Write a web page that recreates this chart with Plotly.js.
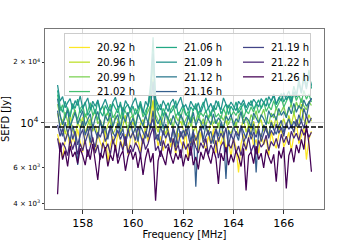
<!DOCTYPE html>
<html>
<head>
<meta charset="utf-8">
<script src="https://cdn.plot.ly/plotly-3.0.1.min.js"></script>
<style>html,body{margin:0;padding:0;background:#fff;}#chart{width:360px;height:240px;}</style>
</head>
<body>
<div id="chart"></div>
<script>
var freq = [157.0,157.1,157.2,157.3,157.4,157.5,157.6,157.7,157.8,157.9,
158.0,158.1,158.2,158.3,158.4,158.5,158.6,158.7,158.8,158.9,
159.0,159.1,159.2,159.3,159.4,159.5,159.6,159.7,159.8,159.9,
160.0,160.1,160.2,160.3,160.4,160.5,160.6,160.7,160.8,160.9,
161.0,161.1,161.2,161.3,161.4,161.5,161.6,161.7,161.8,161.9,
162.0,162.1,162.2,162.3,162.4,162.5,162.6,162.7,162.8,162.9,
163.0,163.1,163.2,163.3,163.4,163.5,163.6,163.7,163.8,163.9,
164.0,164.1,164.2,164.3,164.4,164.5,164.6,164.7,164.8,164.9,
165.0,165.1,165.2,165.3,165.4,165.5,165.6,165.7,165.8,165.9,
166.0,166.1,166.2,166.3,166.4,166.5,166.6,166.7,166.8,166.9,
167.0,167.1];

var labels = ["20.92 h","20.96 h","20.99 h","21.02 h","21.06 h","21.09 h","21.12 h","21.16 h","21.19 h","21.22 h","21.26 h"];

var s2092 = [8800,7600,6700,8200,9100,7400,8600,7900,9300,8100,
7200,8800,9600,7700,8400,7100,8900,8000,7500,9200,
6400,7800,8600,7300,9000,8200,7600,8800,7000,8400,
9100,7800,8300,7200,8700,9400,8100,9800,13000,9000,
7700,8600,7300,8200,9500,7600,8400,7000,8900,8100,
7500,9200,6600,8300,7800,8700,7200,9000,8000,7400,
8600,7900,9300,7100,8500,7800,9100,7400,8200,6800,
8400,7600,5700,7900,8800,7300,8500,9200,7700,8300,
7100,8900,7800,8400,6900,9100,8000,7500,8700,9400,
7600,8200,9000,7300,8600,10200,7900,8800,9500,6600,
8300,9100];

var s2096 = [11200,9600,10400,8800,9900,10800,9200,8600,10100,9400,
10700,8900,9800,10500,9100,9700,8700,10300,9500,8900,
9800,10600,8800,9300,10200,9000,9700,10900,8600,9500,
10100,9200,8500,9900,10400,9100,9600,11500,12800,9800,
9000,10300,9500,8800,9900,10500,9200,8600,9800,10200,
9300,8700,9900,10400,9000,9600,8300,9800,10100,9400,
8800,10200,9500,9100,10000,8600,9700,10300,9200,8900,
9600,10100,8700,9400,10500,9000,9800,9300,10200,8800,
9900,10400,9100,9700,8600,10300,9500,10800,9200,9900,
10500,9400,10900,9800,11200,10100,9600,12400,10400,9800,
11000,10200];

var s2099 = [12400,10800,9900,11300,10200,9400,10900,11600,9800,10500,
9600,11100,10300,9700,10800,11400,9900,10400,9300,10700,
11200,10000,9500,10900,10300,9700,11300,10100,9400,10600,
10900,9800,11200,10400,9600,10700,11500,12200,16500,11000,
10300,9700,10800,11300,9900,10500,9500,10900,10200,11100,
9800,10400,11000,9600,10700,10100,11400,9900,10500,9700,
10800,11200,9900,10400,9500,10900,10300,11100,9800,10600,
10200,9600,10900,11300,10000,10600,9700,11000,10400,11500,
10100,10800,11700,10300,9900,11200,10600,12000,10900,11400,
12100,10800,11600,12400,11000,12700,11800,13200,12100,11600,
12800,12200];

var s2102 = [13800,11500,12300,10600,11900,10900,12500,11200,10400,11800,
12200,10700,11400,12600,10900,11700,10300,11600,12100,10800,
11300,12400,10600,11100,11900,10500,12000,11400,10800,11700,
10600,11800,11000,12300,10700,11500,12100,13500,20000,12000,
11200,10500,11800,11100,10400,11600,12200,10800,11300,10600,
11900,10900,11400,10300,11700,12100,10600,11200,10800,11500,
10400,11300,11900,10700,11100,10500,11800,11000,12300,10800,
11400,10900,11700,12200,10600,11500,11100,12000,11300,12500,
11200,11900,12700,11400,12100,11600,12900,11800,12500,13300,
12000,12800,13600,12300,14200,12900,13800,12600,14500,13100,
13900,12700];

var s2106 = [14500,12100,11300,12800,11600,10700,12400,11800,13100,11200,
11900,12700,10900,11500,12300,11100,12900,11400,10800,12200,
11600,10900,12500,11800,11200,12700,10800,11900,12400,11300,
12100,11000,11700,12800,11300,10900,12300,15500,26500,13000,
11500,12400,10800,11900,12600,11200,11700,12900,10900,11600,
12300,11100,10700,12000,11500,12500,11000,11800,12700,11300,
11900,10800,12200,11600,12800,11100,11700,12400,11000,12100,
11500,12700,11200,11900,12500,11400,12200,12900,11700,12400,
13000,11800,12600,13300,12100,12800,13600,12300,13100,14000,
12700,13500,14400,13000,15200,13700,16500,14100,17800,15000,
18300,14800];

var s2109 = [15400,12800,13500,11900,12600,13200,11700,12900,12200,13600,
11800,12500,13300,11600,12800,12100,13000,11500,12400,13100,
12000,11400,12700,13400,11900,12300,11300,12900,12200,11700,
12600,13300,11800,12400,11200,12800,12100,14500,22000,13200,
12300,11600,12900,12000,11400,12600,13100,11800,12500,13400,
11900,12300,11500,12800,12100,11700,12600,11300,12200,13300,
11800,12500,11400,12900,12200,11600,13300,12400,11900,12700,
12100,11500,12800,12300,13000,11900,12600,12200,13100,12500,
12000,13200,12600,12100,13500,12800,13900,12400,13300,12900,
14100,13000,13700,12600,14300,13400,15800,14000,16600,14700,
17200,15300];

var s2112 = [13200,11000,9800,10800,11600,9600,10400,11300,9900,10700,
11500,9700,10300,11100,9400,10600,11400,10000,9500,10900,
10200,11200,9600,10500,11000,9300,10800,10100,11300,9800,
10600,9500,11100,10300,9700,10900,10000,12000,16000,10500,
9900,10700,9400,11200,10400,9800,10900,10100,9600,11000,
10300,9500,10800,10000,11300,9700,10500,10200,9300,10900,
10400,9800,11100,9900,10600,10200,9400,10800,10300,11000,
9700,10500,10100,11400,9900,10700,10300,9600,11200,10600,
10000,11000,10500,9800,11500,10700,11100,10300,11800,10900,
11400,10600,12000,11100,12500,11300,12200,11700,13000,12100,
12700,13200];

var s2116 = [11500,9400,8600,10100,9000,8200,9700,8800,6200,9300,
10200,8700,9500,8000,9900,9100,8400,10300,8900,9600,
8300,9800,9000,8500,10000,8700,9400,7800,9200,10100,
8800,9500,8100,9700,9000,8400,10200,9300,11500,8900,
8200,9600,8700,9900,9100,8000,9400,7600,9800,8500,
9200,8600,9700,8100,9300,4850,8900,9500,8300,9800,
8700,9100,7900,9400,8600,10000,8800,5300,9200,8500,
9600,8900,8200,9700,9000,8400,9500,8700,9900,5700,
9100,8500,9800,9200,8600,10100,9300,8800,9700,10300,
9000,9800,10500,9400,10200,9600,11000,10100,11800,10700,
12400,13300];

var s2119 = [9800,8600,9400,8100,8900,9700,8300,9100,7800,8700,
9300,8000,8800,9600,8200,7600,9000,8500,9400,8100,
8700,9500,7900,8600,9200,8300,8900,7700,9300,8400,
9000,8200,9600,8700,7900,9100,8500,9800,10500,8300,
8800,7700,9200,8400,9000,8100,9500,8600,7800,9100,
8300,9400,8700,7600,9000,8200,8800,9600,8000,8500,
9200,7900,8700,9300,8100,8900,8400,9500,7700,8800,
8200,9100,8600,9700,8000,8700,9300,8300,9000,8500,
9400,8100,8800,9600,8400,9200,8700,9900,8900,9500,
8600,10000,9300,9800,9000,10400,9600,10200,9400,10900,
10000,10600];

var s2122 = [8400,7200,8000,7600,6900,8300,7400,8100,7000,7900,
7300,8200,6800,7700,8500,7100,7800,6600,8000,7400,
7900,7000,8300,7500,6700,8100,7300,8600,7100,7800,
7200,8000,7600,6900,8400,7400,7900,8800,9500,7300,
7700,6800,8200,7500,7900,7000,8400,7300,7800,6700,
8100,7400,7900,6900,8300,7600,7100,8000,7500,8400,
7000,7800,7300,8200,6700,7700,8100,7200,7900,7500,
8300,7100,7700,6900,8000,7400,8500,7200,7800,7000,
8200,7600,7900,8700,7300,8100,7700,8400,7500,8800,
8000,8600,7800,9100,8400,8900,8200,9400,8700,9200,
8500,9000];

var s2126 = [4450,8000,6600,7300,6100,7700,6800,7200,6300,7500,
6900,6200,7400,6600,7900,6400,5230,7100,6700,7600,
6100,7000,6500,7800,6300,6900,7300,5810,6800,7400,
6600,7200,6000,7000,5540,6700,7500,6400,7100,4130,
6500,7300,6800,6200,7600,6900,6300,7100,6600,7400,
6100,7000,6500,7700,6200,6800,5900,7200,6600,7500,
6900,6300,7400,6700,5000,7100,6500,7600,6200,7000,
6400,7300,6800,6100,7500,4650,6900,7200,6300,7700,
6600,7100,6000,7400,6800,6300,7000,5130,7300,6700,
7600,4750,6900,7500,6400,7800,7100,8300,7400,9800,
7900,5750];

var series = [s2092,s2096,s2099,s2102,s2106,s2109,s2112,s2116,s2119,s2122,s2126];
var colors = ["#fde725","#bddf26","#7ad151","#44bf70","#22a884","#21918c","#2a788e","#355f8d","#414487","#482475","#440154"];
// legend rank so the row-wise legend reproduces the column-wise order
var ranks = [1,4,7,10,2,5,8,11,3,6,9];

var yMinorTickVals = [4000, 6000, 20000];
var yMinorTickText = ['4 × 10<sup>3</sup>', '6 × 10<sup>3</sup>', '2 × 10<sup>4</sup>'];
var yMajorTickVals = [10000];
var yMajorTickText = ['10<sup>4</sup>'];
var xTickVals = [158, 160, 162, 164, 166];
var refLevel = 9550;
var yRange = [Math.log10(3763), Math.log10(29100)];

var traces = series.map(function(s, i){
  return {x: freq, y: s, type: 'scatter', mode: 'lines', name: labels[i],
          legendrank: ranks[i],
          line: {color: colors[i], width: 1.25}};
});
// empty helper trace so the overlaid major-tick axis (10^4 label and grid) is drawn
traces.unshift({x: [], y: [], yaxis: 'y2', type: 'scatter', mode: 'lines',
                showlegend: false, hoverinfo: 'skip'});

var layout = {
  width: 360, height: 240,
  margin: {l: 45, r: 36, t: 29, b: 31},
  paper_bgcolor: '#fff', plot_bgcolor: '#fff',
  font: {family: 'DejaVu Sans', size: 10, color: '#000'},
  showlegend: true,
  legend: {x: 0.068, y: 0.978, xanchor: 'left', yanchor: 'top',
           orientation: 'h', entrywidth: 42,
           bgcolor: 'rgba(255,255,255,0.8)', bordercolor: '#cccccc', borderwidth: 1,
           font: {family: 'DejaVu Sans', size: 10}, tracegroupgap: 0},
  xaxis: {range: [156.5, 167.6], tickvals: xTickVals, ticktext: xTickVals.map(String),
          ticks: 'outside', ticklen: 3.5, tickcolor: '#333', tickfont: {size: 11},
          showgrid: true, gridcolor: '#d6d6d6', gridwidth: 1, zeroline: false,
          showline: true, linecolor: '#777', linewidth: 1, mirror: true,
          title: {text: 'Frequency [MHz]', font: {size: 10}, standoff: 3}},
  yaxis: {type: 'log', range: yRange,
          tickmode: 'array', tickvals: yMinorTickVals, ticktext: yMinorTickText,
          ticks: 'outside', ticklen: 2.5, tickcolor: '#333', tickfont: {size: 7},
          showgrid: false, zeroline: false,
          showline: true, linecolor: '#777', linewidth: 1, mirror: true,
          title: {text: 'SEFD [Jy]', font: {size: 10}, standoff: 4}},
  yaxis2: {type: 'log', range: yRange, autorange: false, overlaying: 'y', side: 'left',
          tickmode: 'array', tickvals: yMajorTickVals, ticktext: yMajorTickText,
          ticks: 'outside', ticklen: 3.5, tickcolor: '#333', tickfont: {size: 10.5},
          showgrid: true, gridcolor: '#d6d6d6', gridwidth: 1, zeroline: false,
          showline: false},
  shapes: [
    {type: 'line', xref: 'paper', x0: 0, x1: 1, yref: 'y', y0: refLevel, y1: refLevel,
     line: {color: '#000', width: 1.4, dash: '5px,2px'}, layer: 'above'}
  ]
};

Plotly.newPlot('chart', traces, layout, {staticPlot: true, displayModeBar: false}).then(function(gd){
  // compact legend rows and shorten line samples to match the reference legend
  var legend = gd.querySelector('.legend');
  if (!legend) return;
  var items = legend.querySelectorAll('.traces');
  var ys = [];
  items.forEach(function(t){
    var m = /translate\(\s*([-\d.]+)[ ,]+([-\d.]+)\s*\)/.exec(t.getAttribute('transform') || '');
    if (m) ys.push(parseFloat(m[2]));
  });
  var y0 = Math.min.apply(null, ys);
  var k = 14.7 / 19;
  items.forEach(function(t){
    var m = /translate\(\s*([-\d.]+)[ ,]+([-\d.]+)\s*\)/.exec(t.getAttribute('transform') || '');
    if (!m) return;
    var x = parseFloat(m[1]), y = parseFloat(m[2]);
    t.setAttribute('transform', 'translate(' + x + ',' + (y0 - 1 + (y - y0) * k) + ')');
    t.querySelectorAll('.legendlines path').forEach(function(p){ p.setAttribute('d', 'M4,0h21'); });
    t.querySelectorAll('text.legendtext').forEach(function(tx){ tx.setAttribute('x', 32); });
  });
  var bg = legend.querySelector('rect.bg');
  if (bg) { bg.setAttribute('height', 62); bg.setAttribute('width', 246); }
});
</script>
</body>
</html>
